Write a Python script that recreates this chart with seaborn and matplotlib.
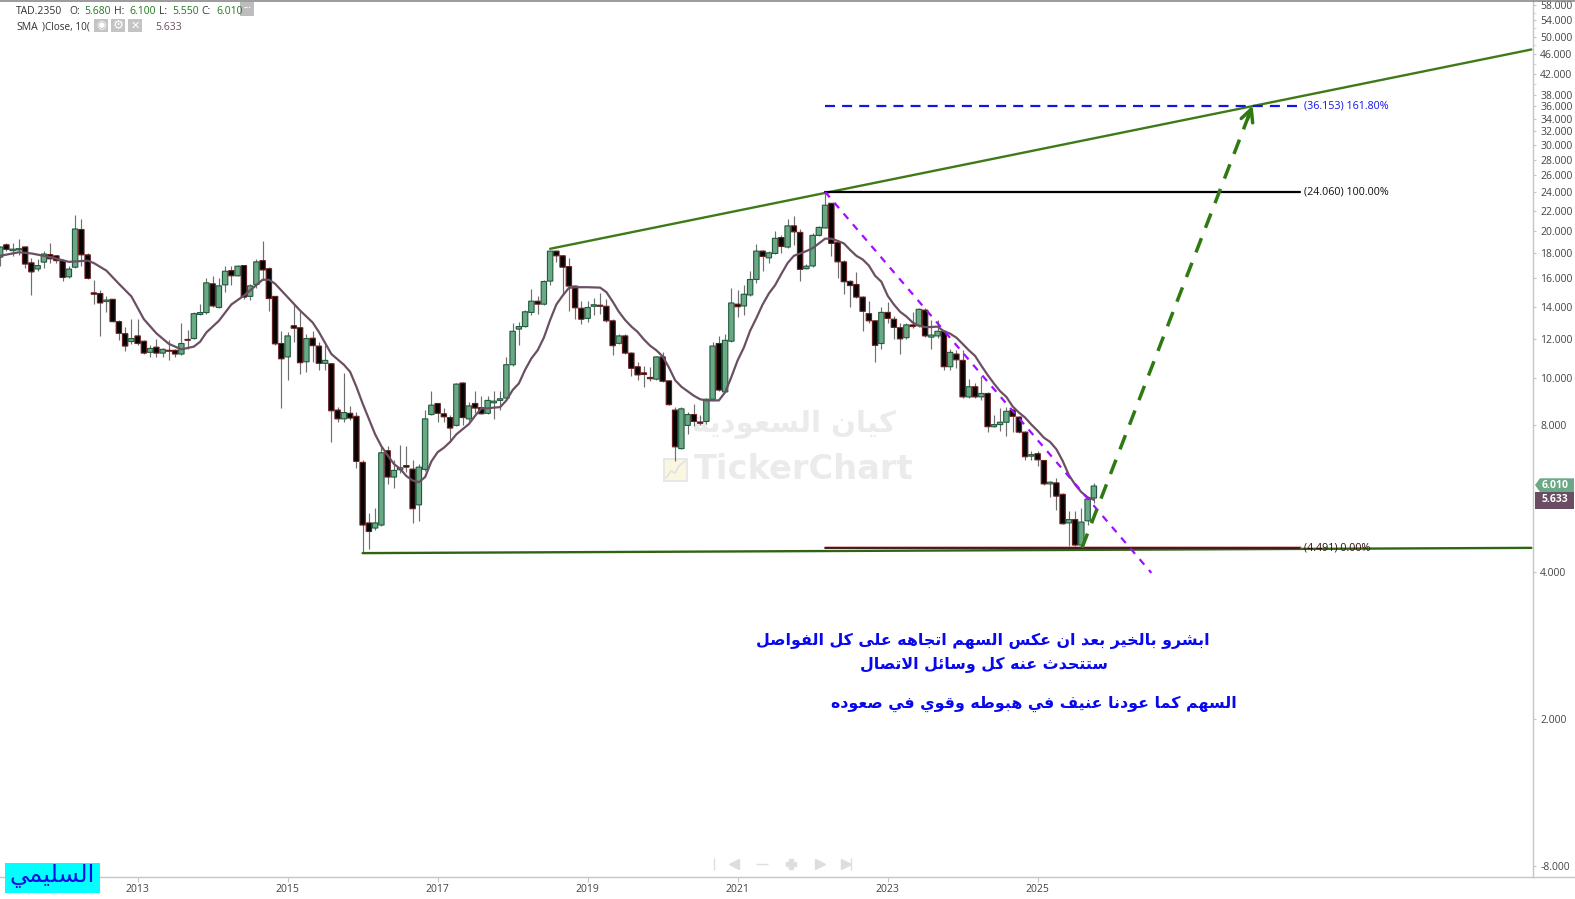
import matplotlib
matplotlib.use("Agg")
import matplotlib.pyplot as plt
import matplotlib.ticker
import seaborn as sns
from matplotlib.lines import Line2D
from matplotlib.patches import Polygon, Rectangle

# ---------------- data ----------------
open_ = [17.69,18.75,18.24,18.3,18.56,17.22,16.73,17.28,17.9,17.8,
 17.4,16.12,16.87,20.15,17.88,14.95,14.9,14.35,14.5,13.05,
 12.33,11.88,12.2,11.9,11.29,11.57,11.25,11.4,11.4,11.2,
 12.0,12.05,13.5,13.62,15.6,13.95,15.52,16.6,16.2,17.0,
 14.7,15.55,17.4,16.75,14.7,11.77,11.05,12.8,12.68,10.8,
 12.07,11.63,10.72,10.7,8.6,8.25,8.47,8.35,6.72,5.05,
 4.93,5.0,7.1,6.27,6.49,6.62,6.51,5.5,6.5,8.42,
 8.87,8.45,8.3,8.0,9.77,8.25,8.87,8.7,8.47,8.9,
 9.0,9.1,10.65,12.6,12.75,13.63,14.37,14.17,15.8,18.2,
 17.8,16.92,15.43,13.9,13.25,14.03,14.1,14.03,13.1,11.78,
 12.2,11.25,10.55,10.25,10.03,9.95,11.05,9.87,8.6,7.17,
 8.0,8.42,8.13,8.15,9.05,11.77,9.37,11.9,14.17,14.05,
 14.8,15.92,18.2,17.63,18.0,19.4,18.55,20.5,19.88,16.75,
 16.97,19.6,20.3,22.8,18.95,17.3,15.78,15.55,14.65,13.55,
 13.1,11.77,13.63,13.2,12.68,12.1,12.85,12.8,13.78,12.13,
 12.2,12.47,10.55,11.2,10.87,9.15,9.6,9.15,9.3,7.95,
 8.03,8.12,8.6,8.32,7.75,6.92,7.0,6.78,6.07,6.1,
 5.78,5.05,5.13,4.55,5.1,5.68]
high = [18.6,18.93,18.87,19.26,18.65,17.6,17.5,18.2,18.95,17.9,
 17.5,16.93,21.57,21.2,18.0,15.9,15.15,14.7,14.55,13.15,
 12.7,13.2,13.2,11.95,11.67,12.0,11.55,11.97,11.45,12.97,
 12.55,13.65,14.15,16.0,16.2,16.0,16.95,16.95,17.05,17.05,
 15.6,17.5,19.05,16.85,14.75,12.5,12.4,14.2,13.7,12.33,
 12.5,11.87,11.67,10.75,8.72,10.25,8.75,8.52,6.8,5.3,
 5.43,7.25,7.25,6.8,7.3,7.25,6.8,6.68,8.6,9.4,
 8.9,8.7,8.4,9.77,9.82,8.95,9.4,9.2,9.2,9.4,
 9.4,11.05,12.97,13.0,13.8,15.2,14.75,15.85,18.25,18.25,
 17.87,17.6,15.5,14.35,14.35,14.6,14.93,14.55,13.2,12.3,
 12.3,11.3,10.8,10.6,10.55,11.12,11.3,9.92,8.72,8.72,
 8.52,8.87,8.4,9.1,11.87,12.17,12.33,15.3,15.15,15.5,
 16.55,18.8,18.3,18.25,20.0,19.65,21.2,21.45,20.2,17.1,
 19.8,20.45,24.06,22.85,19.0,17.45,15.9,16.5,14.7,14.4,
 13.15,13.97,14.3,13.37,12.97,12.97,13.65,13.92,13.92,13.13,
 13.13,12.55,11.47,11.4,11.4,9.95,9.75,10.1,9.35,8.42,
 8.7,8.72,8.65,8.35,7.78,7.1,7.1,6.8,6.14,6.25,
 5.82,5.33,5.35,5.42,5.68,6.10]
low = [16.95,18.2,17.8,17.87,16.8,14.77,16.6,16.8,17.2,17.2,
 15.8,16.0,16.8,16.93,15.95,14.2,12.2,13.65,13.0,11.95,
 11.37,11.77,11.67,11.2,11.05,11.07,11.05,10.87,11.07,11.15,
 11.45,12.0,13.45,13.55,14.0,13.9,15.0,15.5,16.15,14.5,
 14.45,15.3,15.9,13.75,11.7,8.7,9.9,11.87,10.2,10.3,
 10.8,10.4,10.4,7.4,8.12,8.12,8.2,6.55,4.38,4.47,
 4.88,4.97,6.07,5.95,6.4,6.43,5.05,5.1,6.45,8.4,
 8.12,8.12,7.4,7.97,8.0,8.15,8.47,8.43,8.44,8.25,
 8.6,9.07,10.6,11.7,12.7,13.45,13.55,14.12,15.5,17.25,
 14.85,13.75,13.2,12.9,13.0,13.45,13.55,13.05,11.15,11.75,
 11.2,10.1,9.9,9.6,9.85,9.9,9.82,8.8,6.77,7.15,
 7.67,7.97,8.03,8.05,9.03,9.42,9.35,11.87,13.35,13.45,
 14.75,15.67,16.6,17.2,17.95,18.0,18.5,18.75,15.8,16.7,
 16.92,19.55,20.25,17.8,16.0,14.9,13.95,14.6,12.5,12.97,
 10.8,11.48,12.97,12.05,11.2,12.0,12.67,12.7,12.15,11.48,
 12.1,10.4,10.4,10.47,9.12,9.1,9.1,9.0,7.77,7.93,
 7.8,7.6,7.75,7.72,6.8,6.78,6.6,6.05,5.7,5.37,
 5.02,4.49,4.49,4.53,5.0,5.55]
close = [18.55,18.35,18.37,18.41,17.12,16.5,17.0,17.95,17.55,17.4,
 16.07,16.72,20.2,17.88,16.0,14.85,14.25,14.45,13.05,12.35,
 11.63,12.05,11.77,11.25,11.5,11.25,11.45,11.35,11.2,11.77,
 11.95,13.55,13.62,15.67,14.05,15.45,16.55,16.2,16.95,14.65,
 15.45,17.3,16.65,14.55,11.75,10.95,12.2,12.65,10.75,12.05,
 11.65,10.72,10.87,8.57,8.25,8.5,8.28,6.75,5.0,4.85,
 5.05,7.03,6.27,6.47,6.55,6.57,5.4,6.57,8.25,8.8,
 8.47,8.33,7.9,9.72,8.3,8.77,8.68,8.45,9.0,8.97,
 9.07,10.65,12.47,12.75,13.67,14.37,14.17,15.77,18.2,17.8,
 16.87,15.43,13.93,13.2,13.95,14.13,14.03,13.1,11.65,12.2,
 11.25,10.47,10.15,10.17,9.97,11.05,9.85,8.82,7.23,8.65,
 8.42,8.15,8.08,9.05,11.63,9.45,11.95,14.25,14.0,14.85,
 15.92,18.2,17.75,18.05,19.33,18.6,20.5,19.93,16.7,16.95,
 19.6,20.35,22.6,18.87,17.3,15.75,15.47,14.65,13.7,13.1,
 11.67,13.63,13.25,12.7,12.03,12.85,12.75,13.83,12.2,12.25,
 12.47,10.55,11.29,10.9,9.15,9.6,9.15,9.3,7.95,8.03,
 8.12,8.55,8.35,7.75,6.9,6.97,6.8,6.07,6.12,5.73,
 5.03,5.13,4.55,5.07,5.65,6.01]

sma_x = [0,3,5,8,11,14,15,17,19,21,23,25,27,29,31,32,33,35,37,39,41,42,43,44,46,48,50,51,53,55,
 56,57,58,59,60,61,62,63,64,65,66,67,68,69,70,71,72,73,75,76,77,78,79,80,81,82,83,84,85,86,
 87,88,89,90,91,92,94,96,97,98,99,100,101,102,103,104,105,106,107,108,109,110,111,112,113,115,116,117,118,119,
 120,121,122,123,124,125,126,127,128,129,130,131,132,133,134,135,136,137,138,139,140,141,142,143,144,145,146,147,148,149,
 150,151,152,153,154,155,156,157,158,159,160,161,162,163,164,165,166,167,168,169,170,171,172,173,174,175]
sma_y = [17.8,18.1,18.0,17.7,17.3,17.4,17.2,16.6,15.6,14.7,13.2,12.35,11.75,11.45,11.6,11.87,12.4,13.1,14.15,14.75,15.5,15.9,15.9,15.6,14.65,13.75,13.0,12.43,11.2,10.65,
 10.3,9.6,8.87,8.25,7.67,7.25,6.95,6.67,6.52,6.3,6.17,6.12,6.27,6.75,7.05,7.2,7.4,7.67,8.05,8.37,8.67,8.67,8.7,8.72,9.0,9.45,9.75,10.4,10.97,11.4,
 12.1,13.15,14.15,14.75,15.3,15.35,15.35,15.32,15.0,14.35,13.67,13.15,12.75,12.43,12.0,11.65,11.4,11.08,10.52,9.9,9.6,9.4,9.2,9.05,9.0,9.0,9.35,10.05,10.87,11.55,
 12.5,13.27,14.15,14.9,15.5,16.35,17.2,17.8,18.0,18.2,18.45,18.87,19.3,19.3,19.1,18.87,18.3,17.8,17.5,17.0,16.2,15.75,14.75,14.15,13.67,13.37,13.0,12.8,12.72,12.72,
 12.75,12.47,12.33,12.1,11.75,11.4,11.1,10.6,10.15,9.75,9.4,9.15,8.75,8.5,8.3,8.03,7.8,7.55,7.4,7.15,6.77,6.33,6.05,5.84,5.7,5.633]

year_ticks = [22,46,70,94,118,142,166]
year_labels = ["2013","2015","2017","2019","2021","2023","2025"]
price_ticks = [58,54,50,46,42,38,36,34,32,30,28,26,24,22,20,18,16,14,12,10,8,4,2,1]
price_labels = ["58.000","54.000","50.000","46.000","42.000","38.000","36.000","34.000","32.000","30.000",
 "28.000","26.000","24.000","22.000","20.000","18.000","16.000","14.000","12.000","10.000","8.000","4.000","2.000","-8.000"]
minor_ticks = [56,52,48,44,40]

upper_x, upper_y = [88,245], [18.4,47.1]
base_x, base_y = [58,245], [4.38,4.49]
fib_x = [132,208]
fib_levels = [24.06,36.153,4.491]
purple_x, purple_y = [132,184.2], [24.06,3.99]
arrow_x, arrow_y = [173.1,200.4], [4.49,36.15]

msg1 = "ابشرو بالخير بعد ان عكس السهم اتجاهه على كل الفواصل"
msg2 = "ستتحدث عنه كل وسائل الاتصال"
msg3 = "السهم كما عودنا عنيف في هبوطه وقوي في صعوده"
brand = "السليمي"
wm_ar = "كيان السعودية"

# ---------------- arabic display forms (matplotlib does no shaping) ----------------
FOUR = dict(zip("ئبتثجحخسشصضطظعغفقكلمنهي",
    [0xFE89,0xFE8F,0xFE95,0xFE99,0xFE9D,0xFEA1,0xFEA5,0xFEB1,0xFEB5,0xFEB9,0xFEBD,0xFEC1,0xFEC5,
     0xFEC9,0xFECD,0xFED1,0xFED5,0xFED9,0xFEDD,0xFEE1,0xFEE5,0xFEE9,0xFEF1]))
TWO = dict(zip("آأؤإادذرزوىة", [0xFE81,0xFE83,0xFE85,0xFE87,0xFE8D,0xFEA9,0xFEAB,0xFEAD,0xFEAF,0xFEED,0xFEEF,0xFE93]))

def shape(s):
    out = []
    i = 0
    chars = list(s)
    n = len(chars)
    prev_joins = False
    while i < n:
        c = chars[i]
        if c == "ل" and i + 1 < n and chars[i + 1] == "ا":
            out.append(chr(0xFEFC if prev_joins else 0xFEFB))
            prev_joins = False
            i += 2
            continue
        nxt = chars[i + 1] if i + 1 < n else " "
        next_ok = nxt in FOUR or nxt in TWO
        if c in FOUR:
            base = FOUR[c]
            if prev_joins and next_ok:
                out.append(chr(base + 3))
            elif prev_joins:
                out.append(chr(base + 1))
            elif next_ok:
                out.append(chr(base + 2))
            else:
                out.append(chr(base))
            prev_joins = next_ok
        elif c in TWO:
            out.append(chr(TWO[c] + (1 if prev_joins else 0)))
            prev_joins = False
        else:
            out.append(c)
            prev_joins = False
        i += 1
    return "".join(reversed(out))

# ---------------- figure ----------------
sns.set_theme(style="white")
plt.rcParams["font.family"] = ["Open Sans", "DejaVu Sans"]
W, H = 1575, 899
TS = 7.5
fig = plt.figure(figsize=(W / 100, H / 100), dpi=100, facecolor="white")
ax = fig.add_axes([0, (H - 877.3) / H, 1533.3 / W, (877.3 - 1) / H])
ax.set_facecolor("none")
ax.set_yscale("log", base=2)
ax.set_xlim(-0.02, 245.31)
ax.set_ylim(0.9495, 59.2)

fx = lambda x: x / W
fy = lambda y: 1 - y / H
TR = fig.transFigure

def ftext(x, y, s, **kw):
    kw.setdefault("ha", "left")
    kw.setdefault("va", "center")
    return ax.text(fx(x), fy(y), s, transform=TR, clip_on=False, **kw)

def frect(x0, y0, x1, y1, color, z=6):
    ax.add_patch(Rectangle((fx(x0), fy(y1)), fx(x1) - fx(x0), fy(y0) - fy(y1), transform=TR,
                           facecolor=color, edgecolor="none", clip_on=False, zorder=z))

# watermark
AR_BOLD = dict(family="DejaVu Sans", fontweight="bold")
ftext(794, 424, shape(wm_ar), ha="center", fontsize=21, color="#ebebeb", zorder=0, **AR_BOLD)
ftext(804, 470, "TickerChart", ha="center", fontsize=24.2, color="#ebebeb", zorder=0, **AR_BOLD)
frect(663, 458, 688, 482, "#e8e8e8", z=0)
frect(665, 460, 686, 480, "#fbf6e0", z=0)
ax.plot([fx(666), fx(671), fx(675), fx(679), fx(685)], [fy(478), fy(471), fy(473), fy(466), fy(461)],
        transform=TR, color="#e2e2e2", lw=1.3, clip_on=False, zorder=0)

# candles
xs = list(range(len(close)))
ups = [c >= o for o, c in zip(open_, close)]
ax.vlines(xs, low, high, color="#6f6f6f", lw=0.85, zorder=2)
bars = ax.bar(xs, [abs(c - o) for o, c in zip(open_, close)], bottom=[min(o, c) for o, c in zip(open_, close)],
              width=0.86, color=["#6aa886" if u else "#050505" for u in ups],
              edgecolor=["#1f5a3c" if u else "#6b2020" for u in ups], linewidth=0.8, zorder=3)
for b in bars:
    b.set_snap(False)

# SMA
sns.lineplot(x=sma_x, y=sma_y, ax=ax, color="#6b4f63", linewidth=1.6, zorder=4, legend=False, errorbar=None)

# drawings
ax.plot(upper_x, upper_y, color="#3f7a18", lw=1.7, zorder=5)
ax.plot(base_x, base_y, color="#2f6414", lw=1.7, zorder=5)
ax.plot(fib_x, [fib_levels[0]] * 2, color="black", lw=1.6, zorder=5)
ax.plot(fib_x, [fib_levels[1]] * 2, color="#1414e6", lw=1.6, ls=(0, (4.5, 3.2)), zorder=5)
ax.plot(fib_x, [fib_levels[2] * 1.002] * 2, color="#d99a9a", lw=1.8, zorder=5)
ax.plot(fib_x, [fib_levels[2]] * 2, color="#200808", lw=1.2, zorder=5)
ax.plot(purple_x, purple_y, color="#a60cff", lw=1.6, ls=(0, (3.2, 3.2)), zorder=6)
ax.plot(arrow_x, arrow_y, color="#2e7a12", lw=2.5, ls=(0, (4.4, 3.2)), zorder=6)
ax.annotate("", xy=(arrow_x[1], arrow_y[1]), xytext=(199.6, 33.96),
            arrowprops=dict(arrowstyle="->", color="#2e7a12", lw=2.5, mutation_scale=22, shrinkA=0, shrinkB=0), zorder=6)

lab_kw = dict(fontsize=7.75, va="center", ha="left", clip_on=False, zorder=7)
ax.text(208.6, fib_levels[0], f"({fib_levels[0]:.3f}) 100.00%", color="#111111", **lab_kw)
ax.text(208.6, fib_levels[1], f"({fib_levels[1]:.3f}) 161.80%", color="#1414e6", **lab_kw)
ax.text(208.6, fib_levels[2], f"({fib_levels[2]:.3f}) 0.00%", color="#301010", **lab_kw)

# axes
for s in ("left", "top"):
    ax.spines[s].set_visible(False)
ax.spines["right"].set_color("#c6c6c6")
ax.spines["bottom"].set_color("#c6c6c6")
ax.spines["right"].set_linewidth(1.0)
ax.spines["bottom"].set_linewidth(1.0)
ax.yaxis.tick_right()
ax.set_yticks(price_ticks)
ax.set_yticklabels(price_labels)
ax.set_yticks(minor_ticks, minor=True)
ax.yaxis.set_minor_formatter(matplotlib.ticker.NullFormatter())
ax.tick_params(axis="y", which="major", length=2.5, width=0.8, color="#c6c6c6", pad=2.5,
               labelsize=TS, labelcolor="#444444", right=True, left=False)
ax.tick_params(axis="y", which="minor", length=2.5, width=0.8, color="#d8d8d8", right=True, left=False)
ax.set_xticks(year_ticks)
ax.set_xticklabels(year_labels)
ax.tick_params(axis="x", length=3.6, width=0.8, color="#c6c6c6", pad=1.5, labelsize=TS,
               labelcolor="#444444", bottom=True)
ax.grid(False)

fig.add_artist(Line2D([0, 1], [fy(0.6), fy(0.6)], color="#808080", lw=1.1))
fig.add_artist(Line2D([fx(1533), 1], [fy(877.3), fy(877.3)], color="#c6c6c6", lw=1.0))

# legend rows
leg = dict(fontsize=TS, color="#333333", zorder=8)
grn = dict(fontsize=TS, color="#1f7a1f", zorder=8)
ftext(16, 11, "TAD.2350", **leg)
for x, s in [(69, "O:"), (114.5, "H:"), (159, "L:"), (201.5, "C:")]:
    ftext(x, 11, s, **leg)
for x, s in [(84, "5.680"), (129, "6.100"), (172, "5.550"), (216, "6.010")]:
    ftext(x, 11, s, **grn)
ftext(16, 27, "SMA", **leg)
ftext(42.5, 27, ")Close, 10(", fontsize=7.2, color="#333333", zorder=8)
ftext(155, 27, "5.633", fontsize=TS, color="#6b4f63", zorder=8)
frect(240, 2, 254, 15.5, "#bdbdbd", z=7)
ftext(247, 8, "···", ha="center", fontsize=7, color="white", fontweight="bold", zorder=8)
for x0, g, sz in [(94, "◉", 8), (111, "⚙", 9), (128, "✕", 8)]:
    frect(x0, 19, x0 + 14, 32, "#c4c4c4", z=7)
    ftext(x0 + 7, 25.5, g, ha="center", fontsize=sz, color="white", family="DejaVu Sans", zorder=8)

# price tags
ax.add_patch(Polygon([(fx(1535), fy(485)), (fx(1540), fy(478.3)), (fx(1574), fy(478.3)), (fx(1574), fy(492)), (fx(1540), fy(492))],
                     transform=TR, facecolor="#6aa886", edgecolor="none", clip_on=False, zorder=7))
ftext(1542, 485.5, "6.010", fontsize=TS, color="white", fontweight="bold", zorder=8)
frect(1535, 492, 1574, 508.7, "#6a4d63", z=7)
ftext(1542, 499.8, "5.633", fontsize=TS, color="white", fontweight="bold", zorder=8)

# messages
msg = dict(ha="center", color="#0808f0", zorder=8, **AR_BOLD)
ftext(982.5, 641, shape(msg1), fontsize=11.4, **msg)
ftext(983.5, 665, shape(msg2), fontsize=11.4, **msg)
ftext(1034, 704, shape(msg3), fontsize=11.4, **msg)

# brand box
frect(5, 863, 100, 893.3, "#00ffff", z=7)
ftext(52.5, 876, shape(brand), ha="center", fontsize=17.5, color="#1010e0", family="DejaVu Sans", zorder=8)

# navigation bar
nav = "#dedede"
def mark(x, m, s):
    fig.add_artist(Line2D([fx(x)], [fy(864)], marker=m, ms=s, color=nav, mec=nav, mfc=nav, ls="none"))
mark(714, "|", 8)
mark(734, "<", 7)
mark(762, "_", 9)
mark(791, "P", 7)
mark(820, ">", 7)
mark(846, ">", 7)
mark(851, "|", 8)

fig.savefig("out.png", dpi=100, facecolor="white")
